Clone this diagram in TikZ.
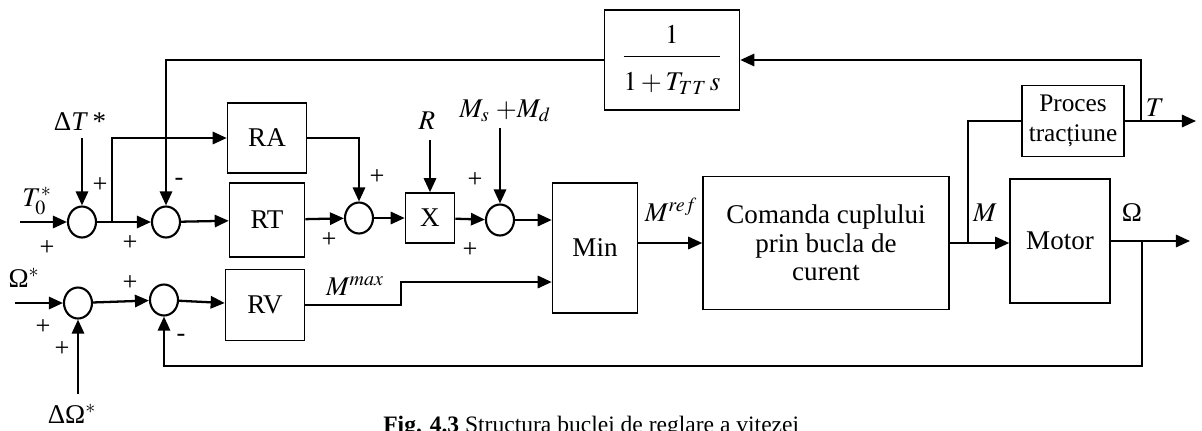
\documentclass[tikz,border=0pt]{standalone}
\usepackage{mathptmx}
\usepackage{fontspec}
\setmainfont{Liberation Serif}
\usetikzlibrary{arrows.meta,shapes.geometric}

\begin{document}
\begin{tikzpicture}[
    x=0.02cm, y=-0.02cm,
    font=\fontsize{15.4}{16.2}\selectfont,
    block/.style={rectangle, draw, line width=0.9pt, text centered, align=center, inner sep=0pt},
    sum/.style={ellipse, draw, line width=1.2pt, minimum width=0.56cm, minimum height=0.62cm, inner sep=0pt},
    sig/.style={line width=1.3pt, -{Triangle[length=8pt,width=7pt]}},
    wire/.style={line width=1.3pt},
    sign/.style={font=\fontsize{15}{15}\selectfont, inner sep=0pt},
    lbl/.style={inner sep=0pt}
]
\useasboundingbox (0,0) rectangle (1202,430);

% Summing points
\node[sum] (s1) at (82,222) {};
\node[sum] (s2) at (166,222) {};
\node[sum] (s3) at (359,218) {};
\node[sum] (s4) at (500,220) {};
\node[sum] (s5) at (78,303) {};
\node[sum] (s6) at (164,300) {};

% Blocks
\node[block, minimum width=1.58cm, minimum height=1.40cm] (RA) at (267,138) {RA};
\node[block, minimum width=1.50cm, minimum height=1.48cm] (RT) at (267,220) {RT};
\node[block, minimum width=1.58cm, minimum height=1.42cm] (RV) at (265,305) {RV};
\node[block, minimum width=0.98cm, minimum height=1.00cm] (X) at (430,218) {X};
\node[block, minimum width=1.70cm, minimum height=2.60cm] (Min) at (595,248) {Min};
\node[block, minimum width=4.92cm, minimum height=2.66cm] (Cmd) at (826,243) {Comanda cuplului\\prin bucla de\\curent};
\node[block, minimum width=2.00cm, minimum height=2.48cm] (Motor) at (1060,241) {Motor};
\node[block, minimum width=2.04cm, minimum height=1.42cm, font=\fontsize{14.4}{17}\selectfont] (Proc) at (1073,121) {Proces\\tracțiune};
\node[block, minimum width=2.70cm, minimum height=2.00cm] (TF) at (672,60)
    {$\displaystyle\frac{1\vrule width0pt depth5pt}{\vrule width0pt height17pt 1+T_{TT}\,s}$};

% Free ends and branch points
\coordinate (t0in) at (20,222);
\coordinate (dtin) at (82,138);
\coordinate (wsin) at (15,303);
\coordinate (dwin) at (78,394);
\coordinate (rin) at (430,140);
\coordinate (msin) at (500,128);
\coordinate (b1) at (112,222);
\coordinate (mx) at (401,282);
\coordinate (b2) at (968,243);
\coordinate (b3) at (1141,121);
\coordinate (b4) at (1142,241);
\coordinate (fb) at (1142,366);
\coordinate (tout) at (1196,121);
\coordinate (wout) at (1190,241);

% Torque branch
\draw[sig] (t0in) -- (s1);
\draw[sig] (dtin) -- (s1);
\draw[sig] (s1) -- (s2);
\draw[sig] (b1) |- (RA.west);
\draw[sig] (s2) -- (RT);
\draw[sig] (RA.east) -| (s3.north);
\draw[sig] (RT) -- (s3);
\draw[sig] (s3) -- (X);
\draw[sig] (rin) -- (X);
\draw[sig] (X) -- (s4);
\draw[sig] (msin) -- (s4);
\draw[sig] (s4.east) -- (s4.east -| Min.west);

% Speed branch
\draw[sig] (wsin) -- (s5);
\draw[sig] (dwin) -- (s5);
\draw[sig] (s5) -- (s6);
\draw[sig] (s6) -- (RV);
\draw[sig] (RV.east) -| (mx) -- (mx -| Min.west);

% Forward path
\draw[sig] (Min.east |- Cmd.west) -- (Cmd.west);
\draw[sig] (Cmd.east) -- (Cmd.east -| Motor.west);
\draw[wire] (b2) |- (Proc.west);
\draw[sig] (Proc.east) -- (tout);
\draw[sig] (Motor.east |- wout) -- (wout);

% Feedback paths
\draw[sig] (b3) |- (TF.east);
\draw[sig] (TF.west) -| (s2.north);
\draw[sig] (b4) -- (fb) -| (s6.south);

% Signals
\node[lbl] (lt0) at (37,201) {$T_0^*$};
\node[lbl] (ldt) at (80,122) {Δ\textit{T}\,*};
\node[lbl] (lws) at (24,278) {Ω$^*$};
\node[lbl] (ldw) at (72,414) {ΔΩ$^*$};
\node[lbl] (lr) at (427,121) {$R$};
\node[lbl] (lms) at (505,111) {$M_s\;{+}M_d$};
\node[lbl] (lmax) at (355,286) {$M^{max}$};
\node[lbl] (lref) at (671,210) {$M^{ref}$};
\node[lbl] (lm) at (985,213) {$M$};
\node[lbl] (lom) at (1132,213) {Ω};
\node[lbl] (lt) at (1155,108) {$T$};

% Signs
\node[sign] at (100,185) {+};
\node[sign] at (47,248) {+};
\node[sign] at (130,243) {+};
\node[sign] at (179,182) {-};
\node[sign] at (377,177) {+};
\node[sign] at (329,240) {+};
\node[sign] at (475,180) {+};
\node[sign] at (470,250) {+};
\node[sign] at (43,327) {+};
\node[sign] at (62,349) {+};
\node[sign] at (130,283) {+};
\node[sign] at (181,338) {-};

% Caption
\node[anchor=base west, inner sep=0pt, font=\fontsize{13.4}{14}\selectfont] (cap) at (383,432) {\textbf{Fig. 4.3} Structura buclei de reglare a vitezei};

\end{tikzpicture}
\end{document}
